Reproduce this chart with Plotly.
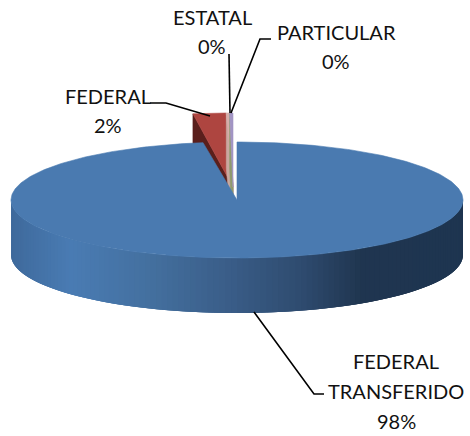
import numpy as np
import plotly.graph_objects as go

categories = ["FEDERAL TRANSFERIDO", "FEDERAL", "ESTATAL", "PARTICULAR"]
values = [97.6, 2.0, 0.2, 0.2]
top_colors = ["#4a7ab0", "#ae4540", "#d6aeaa", "#a295c4"]
wall_colors = [None, "#5a1f1c", "#c9a8a0", "#8f9a6e"]
label_lines = [["FEDERAL", "TRANSFERIDO"], ["FEDERAL"], ["ESTATAL"], ["PARTICULAR"]]
label_centers = [(396, 361), (108, 96), (212, 17), (336, 32)]
label_gaps = [30, 29, 29, 29]
leaders = [
    [(254, 312), (314, 394), (324, 394)],
    [(150, 103), (166, 103), (210, 116)],
    [(229, 54), (230, 113)],
    [(271, 39), (260, 39), (231, 113)],
]

CX, CY, A, B, DEPTH = 237, 200, 226, 58, 55
AX, AY, SX, SY = 233, 187, 1.18, 1.276   # raised (exploded) wedges
wall_stops = [(11, "#3f6a9c"), (70, "#4a7cb4"), (150, "#44709f"), (230, "#3a5d88"),
              (300, "#2f4c70"), (360, "#203650"), (463, "#1e3550")]

fig = go.Figure()


def poly(xs, ys, color, lw=0.6):
    fig.add_trace(go.Scatter(x=xs, y=ys, mode="lines", fill="toself", fillcolor=color,
                             line=dict(color=color, width=lw), hoverinfo="skip", showlegend=False))


def hex2rgb(h):
    return np.array([int(h[i:i + 2], 16) for i in (1, 3, 5)], float)


def wall_color(x):
    xs = [s[0] for s in wall_stops]
    rgb = np.array([hex2rgb(s[1]) for s in wall_stops])
    c = [np.interp(x, xs, rgb[:, i]) for i in range(3)]
    return "rgb(%d,%d,%d)" % tuple(c)


# clockwise slice angles, the first slice starts at 12 o'clock
fracs = np.array(values) / sum(values) * 360.0
ends = np.cumsum(fracs)
starts = ends - fracs

# raised small wedges, drawn behind the main slice
for i in range(1, len(values)):
    th = np.radians(np.linspace(starts[i], ends[i], 8))
    ox = AX + SX * A * np.sin(th)
    oy = AY - SY * B * np.cos(th)
    poly([AX, ox[0], ox[0], AX, AX], [AY, oy[0], oy[0] + DEPTH, AY + DEPTH, AY], wall_colors[i])
    poly(np.r_[AX, ox, AX], np.r_[AY, oy, AY], top_colors[i])

# main slice front wall, shaded in overlapping strips
edges = np.radians(np.linspace(270, 90, 121))
for k in range(len(edges) - 1):
    a0 = edges[k]
    a1 = edges[min(k + 3, len(edges) - 1)]
    th = np.linspace(a0, a1, 6)
    x = CX + A * np.sin(th)
    y = CY - B * np.cos(th)
    poly(np.r_[x, x[::-1], x[0]], np.r_[y, y[::-1] + DEPTH, y[0]], wall_color(x[:2].mean()), lw=0)

# main slice top
th = np.radians(np.linspace(starts[0], ends[0], 361))
poly(np.r_[CX, CX + A * np.sin(th), CX], np.r_[CY, CY - B * np.cos(th), CY], top_colors[0])

# leader lines
for pts in leaders:
    fig.add_trace(go.Scatter(x=[p[0] for p in pts], y=[p[1] for p in pts], mode="lines",
                             line=dict(color="#000000", width=1.6), hoverinfo="skip", showlegend=False))

# labels
font = dict(family="Lato, Carlito, sans-serif", size=20, color="#111111")
for i, lines in enumerate(label_lines):
    cx, cy = label_centers[i]
    for j, txt in enumerate(lines):
        fig.add_annotation(x=cx, y=cy + j * label_gaps[i], text=txt, showarrow=False, font=font)
    pct = "%d%%" % round(values[i])
    fig.add_annotation(x=cx, y=cy + len(lines) * label_gaps[i], text=pct, showarrow=False, font=font)

fig.update_layout(width=470, height=436, autosize=False, margin=dict(l=0, r=0, t=0, b=0),
                  paper_bgcolor="white", plot_bgcolor="white", showlegend=False,
                  xaxis=dict(range=[0, 470], visible=False, fixedrange=True),
                  yaxis=dict(range=[436, 0], visible=False, fixedrange=True))
fig.write_html("out.html", config={"displayModeBar": False},
               post_script="document.body.style.margin='0';document.documentElement.style.overflow='hidden';")
